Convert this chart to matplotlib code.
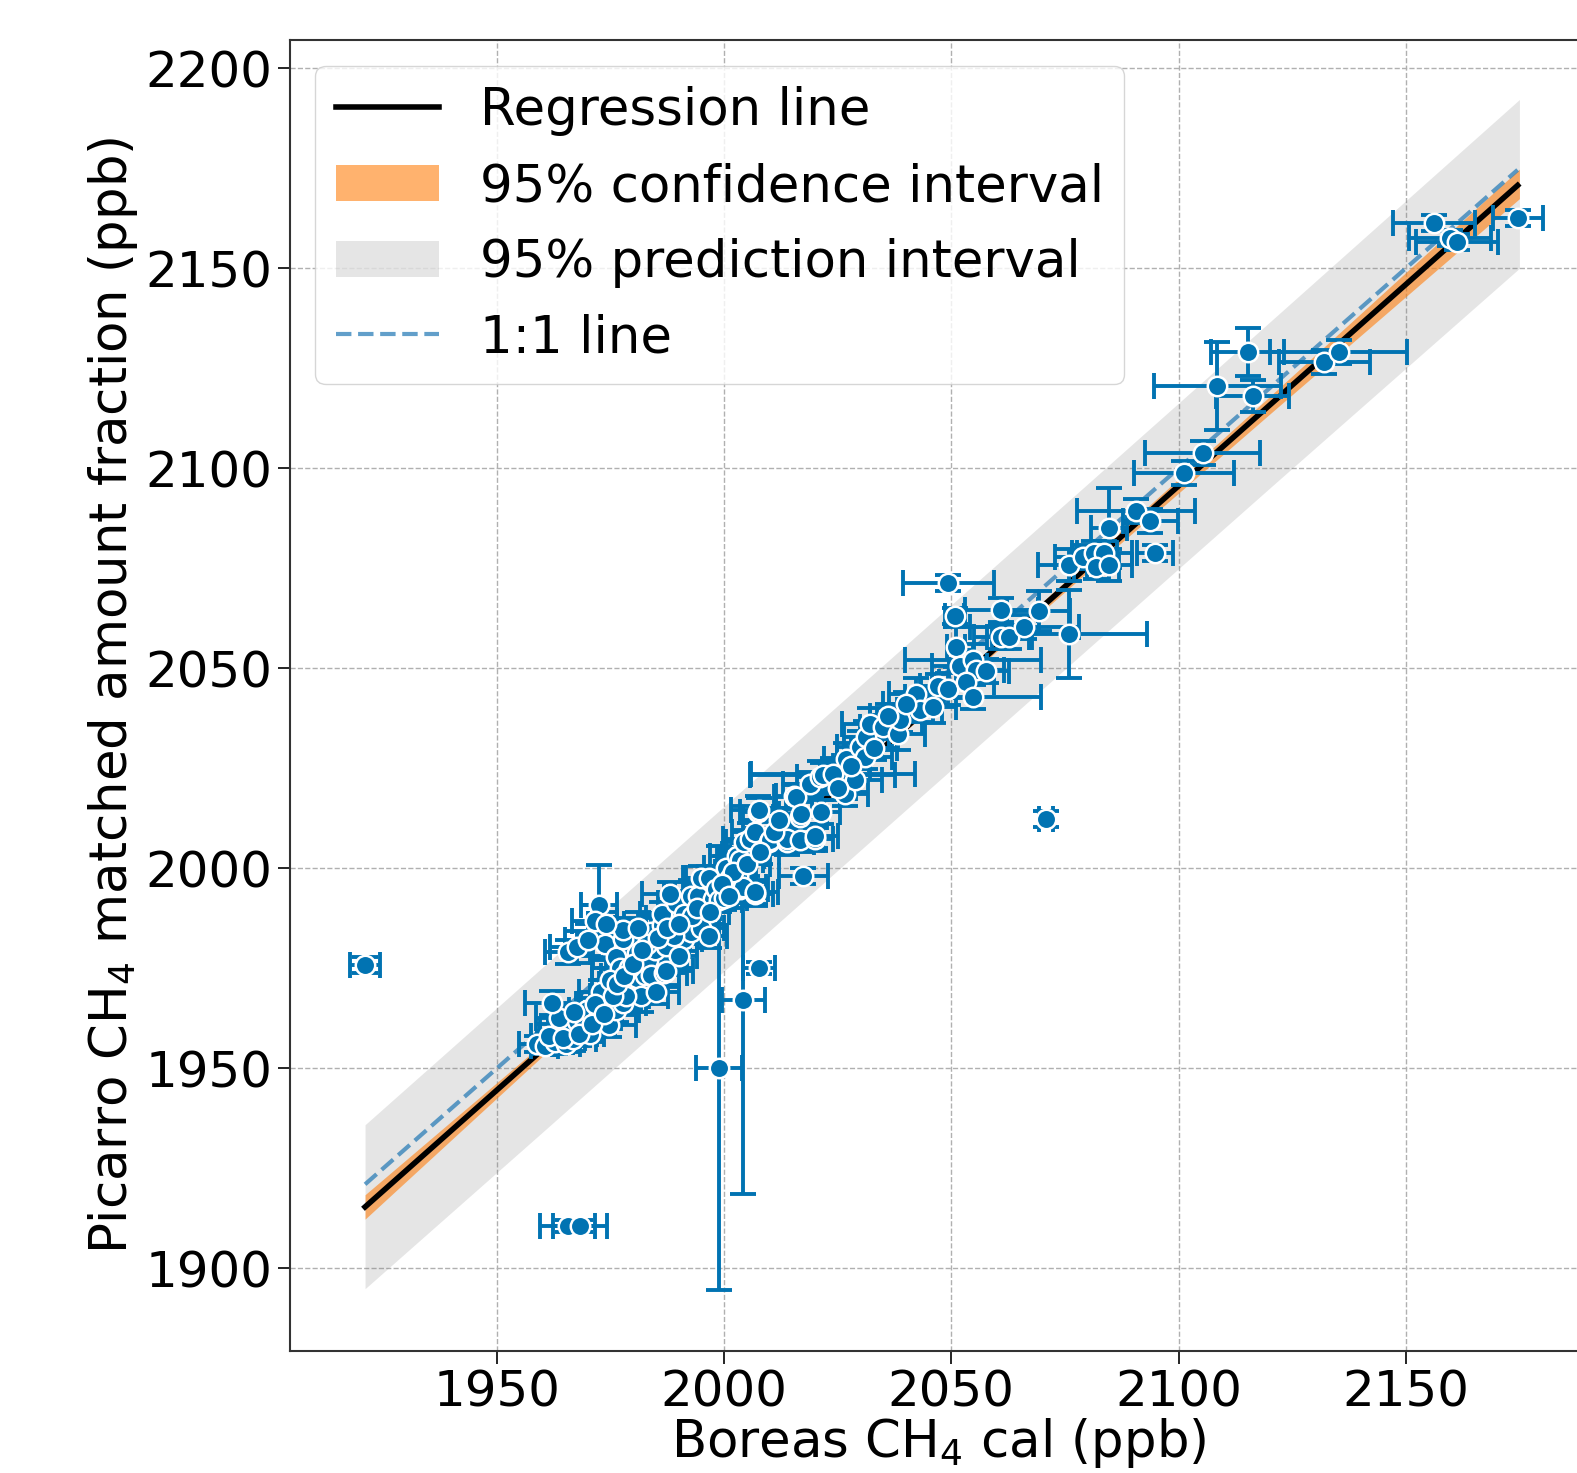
import matplotlib
matplotlib.use("Agg")
import matplotlib.pyplot as plt
from matplotlib.lines import Line2D
from matplotlib.patches import Patch
import numpy as np

# Boreas cal (x), Picarro (y), and their uncertainties
boreas = [
    1958.9, 1960.5, 1962.8, 1965.2, 1966.8, 1963.6, 1965.2, 1967.6, 1969.1, 1963.6,
    1962.1, 1969.9, 1972.3, 1974.6, 1973.0, 1974.6, 1976.2, 1977.8, 1970.5, 1967.0,
    1971.5,
    1965.6, 1967.6, 1972.5, 1971.5, 1973.8, 1976.2, 1977.0, 1977.8, 1977.8, 1979.3,
    1980.9, 1980.9, 1981.7, 1978.5, 1982.5, 1983.3, 1984.0, 1984.0, 1984.8, 1986.4,
    1986.8, 1987.2, 1987.2, 1988.8, 1986.4, 1989.5, 1991.1, 1991.1, 1992.7, 1992.7,
    1995.0, 1996.6, 1994.2, 1995.0, 1996.6, 1997.6, 1998.2, 1998.9, 1975.0, 1979.0,
    1983.0, 1989.0, 1990.0, 1985.0, 1993.0, 1988.0, 1981.0,
    1961.5, 1964.5, 1968.0, 1971.0, 1973.5, 1975.5, 1976.5, 1978.0, 1980.0, 1982.0,
    1985.5, 1987.5, 1990.0, 1994.0, 1997.0, 2000.0, 2003.0, 2004.5, 1970.0, 1974.0,
    2000.5, 2001.3, 2002.8, 2003.5, 2003.6, 2004.2, 2004.4, 2005.7, 2006.8, 2006.8,
    2006.8, 2007.5, 2007.6, 2009.9, 2010.1, 2013.8, 2013.8, 2015.4, 2015.9, 2016.7,
    2017.0, 2016.7, 2020.0, 2020.1, 2021.4, 2018.9, 2021.1, 2021.7, 2024.0, 2002.0,
    2005.0, 2008.0, 2011.0, 2012.0, 1999.5, 2001.0,
    2026.6, 2026.9, 2028.8, 2029.8, 2030.9, 2031.3, 2032.0, 2035.0, 2038.3, 2038.6,
    2042.3, 2043.0, 2046.0, 2047.1, 2049.3, 2025.0, 2033.0, 2036.0, 2040.0, 2028.0,
    2049.3, 2050.7, 2051.1, 2051.8, 2054.7, 2055.5, 2057.7, 2053.3, 2054.7, 2061.0,
    2061.0, 2062.8, 2066.1, 2069.2, 2076.0,
    2076.0, 2078.9, 2081.5, 2083.7, 2081.9, 2084.8, 2084.7, 2090.6, 2093.8, 2094.8,
    2101.1, 2105.3, 2108.5, 2115.2, 2116.3, 2132.1, 2135.2, 2156.2, 2159.8, 2161.3,
    2174.6,
    1921.0, 1965.6, 1968.3, 1998.9, 2004.2, 2007.6, 2017.4, 2070.9,
]
picarro = [
    1956.0, 1955.6, 1956.5, 1956.0, 1957.4, 1959.1, 1960.0, 1961.8, 1960.0, 1962.7,
    1966.3, 1964.5, 1962.7, 1960.9, 1969.0, 1965.4, 1964.5, 1966.3, 1958.5, 1964.0,
    1966.0,
    1979.2, 1980.4, 1990.8, 1986.8, 1981.0, 1977.9, 1975.2, 1982.3, 1984.6, 1969.8,
    1972.5, 1978.8, 1968.0, 1968.0, 1973.4, 1977.0, 1973.4, 1984.1, 1979.7, 1985.9,
    1973.9, 1974.3, 1980.6, 1987.7, 1988.6, 1991.3, 1988.6, 1982.3, 1984.1, 1993.0,
    1985.0, 1983.2, 1993.0, 1997.5, 1997.5, 1992.4, 1994.8, 1992.2, 1972.0, 1975.0,
    1981.0, 1983.0, 1978.0, 1969.0, 1988.0, 1993.5, 1985.0,
    1958.0, 1957.5, 1958.5, 1961.0, 1963.5, 1968.0, 1971.0, 1973.0, 1976.0, 1979.5,
    1982.5, 1985.0, 1986.0, 1990.0, 1989.0, 1992.5, 1998.0, 2003.5, 1982.0, 1986.0,
    2000.2, 1997.5, 2003.0, 2002.0, 1994.8, 1995.3, 2006.5, 2007.4, 2009.1, 1993.6,
    1994.0, 2014.0, 2014.5, 2006.5, 2007.0, 2006.6, 2007.3, 2018.0, 2017.8, 2012.8,
    2013.6, 2007.0, 2007.4, 2008.2, 2014.0, 2021.1, 2022.8, 2023.4, 2023.6, 1999.0,
    2001.0, 2004.0, 2009.0, 2012.0, 1996.0, 1993.0,
    2018.7, 2027.4, 2022.0, 2030.3, 2027.8, 2032.8, 2036.2, 2035.3, 2033.6, 2037.0,
    2043.6, 2039.5, 2040.3, 2045.7, 2044.9, 2020.0, 2030.0, 2038.0, 2041.0, 2025.5,
    2071.2, 2063.0, 2055.3, 2050.7, 2052.0, 2049.5, 2049.3, 2046.6, 2042.8, 2064.6,
    2057.8, 2057.8, 2060.3, 2064.3, 2058.6,
    2075.7, 2077.8, 2078.7, 2078.7, 2075.3, 2075.7, 2085.0, 2089.2, 2086.8, 2078.8,
    2098.8, 2103.7, 2120.5, 2129.1, 2118.0, 2126.5, 2129.1, 2161.3, 2157.5, 2156.5,
    2162.5,
    1975.9, 1910.5, 1910.5, 1950.0, 1967.0, 1975.0, 1998.0, 2012.4,
]
boreas_err = [
    4, 3, 4, 3, 5, 4, 3, 5, 4, 5,
    6, 4, 5, 6, 5, 6, 5, 5, 3, 4,
    4,
    5, 6, 4, 5, 6, 5, 6, 5, 4, 5,
    6, 5, 6, 5, 5, 4, 6, 5, 5, 4,
    5, 6, 5, 6, 5, 4, 5, 4, 5, 6,
    5, 4, 5, 4, 5, 4, 6, 5, 4, 5,
    4, 5, 4, 5, 4, 6, 5,
    4, 5, 4, 5, 4, 5, 4, 5, 4, 5,
    4, 5, 4, 5, 4, 5, 4, 5, 5, 4,
    5, 5, 6, 5, 6, 5, 4, 6, 5, 4,
    5, 4, 6, 4, 5, 6, 5, 4, 5, 6,
    5, 5, 4, 5, 4, 6, 5, 16, 18, 4,
    5, 4, 5, 4, 5, 4,
    5, 5, 6, 5, 6, 5, 6, 5, 6, 5,
    6, 5, 5, 4, 6, 4, 5, 4, 5, 4,
    10, 2, 2, 6, 15, 6, 5, 6, 15, 8,
    6, 5, 12, 7, 17,
    7, 6, 5, 6, 5, 5, 4, 13, 6, 4,
    11, 12.7, 14, 8, 8, 10, 15, 9, 9, 9,
    5.5,
    3.3, 6, 6, 5, 4.7, 3.5, 5.4, 1.5,
]
picarro_err = [
    2, 2, 3, 2, 3, 3, 2, 3, 3, 3,
    3, 3, 4, 3, 3, 4, 3, 3, 2, 2,
    3,
    3, 4, 10, 4, 4, 3, 4, 4, 3, 3,
    4, 3, 4, 3, 3, 3, 4, 4, 3, 3,
    3, 4, 3, 4, 3, 3, 4, 3, 3, 4,
    3, 3, 4, 3, 3, 3, 4, 3, 3, 3,
    3, 3, 3, 3, 3, 3, 4,
    3, 2, 3, 3, 3, 3, 3, 3, 3, 3,
    3, 3, 3, 3, 3, 3, 3, 3, 4, 3,
    3, 4, 4, 3, 3, 4, 3, 4, 3, 3,
    3, 4, 3, 3, 3, 3, 4, 3, 3, 4,
    3, 3, 3, 3, 3, 3, 4, 3, 4, 3,
    3, 3, 3, 3, 3, 3,
    3, 4, 3, 4, 3, 4, 4, 3, 4, 3,
    4, 3, 4, 3, 4, 3, 3, 3, 3, 3,
    2, 2, 5, 4, 4, 3, 3, 4, 3, 3,
    3, 3, 3, 5, 11,
    4, 3, 3, 3, 3, 4, 10, 3, 3, 2,
    3, 3, 11, 6, 4, 3, 3, 2, 2, 2,
    2,
    2, 1.5, 1.5, 55.5, 48.5, 1.5, 2, 2,
]

# regression fit and bands
slope = 1.007
intercept = -19.1
band_x = [1921, 1960, 2000, 2040, 2080, 2120, 2175]
ci_lo = [1912.3, 1953.0, 1994.1, 2034.4, 2074.1, 2113.5, 2167.4]
ci_hi = [1918.4, 1956.1, 1995.7, 2036.0, 2076.8, 2117.9, 2174.8]
pi_lo = [1894.9, 1934.0, 1974.3, 2014.6, 2054.8, 2095.0, 2150.0]
pi_hi = [1935.9, 1975.2, 2015.5, 2055.8, 2096.1, 2136.5, 2192.2]

blue = "#0173b2"

fig = plt.figure(figsize=(15.77, 14.73), dpi=100)
ax = fig.add_axes([289.6 / 1577, 0.0830, 1298 / 1577, 0.8898])

ax.fill_between(band_x, pi_lo, pi_hi, color="gray", alpha=0.2, linewidth=0, zorder=1)
ax.fill_between(band_x, ci_lo, ci_hi, color="tab:orange", alpha=0.6, linewidth=0, zorder=2)
xs = np.array([min(boreas), max(boreas)])
ax.plot(xs, intercept + slope * xs, color="black", lw=4, zorder=3)
ax.plot(xs, xs, "--", color="tab:blue", alpha=0.7, lw=3, zorder=3)

ax.errorbar(boreas, picarro, xerr=boreas_err, yerr=picarro_err, fmt="none",
            ecolor=blue, elinewidth=2.8, capsize=9.5, capthick=2.8, zorder=4)
ax.plot(boreas, picarro, "o", color=blue, markersize=14,
        markeredgecolor="white", markeredgewidth=1.8, zorder=5)

ax.set_xlim(1904.4, 2190)
ax.set_ylim(1879.4, 2207.05)
ax.set_xticks([1950, 2000, 2050, 2100, 2150])
ax.set_yticks([1900, 1950, 2000, 2050, 2100, 2150, 2200])
ax.tick_params(labelsize=36, length=9, width=1.2)
ax.grid(True, linestyle="--", color="#b0b0b0", linewidth=1.0)
ax.set_axisbelow(True)
for sp in ax.spines.values():
    sp.set_color("#333333")
    sp.set_linewidth(1.5)

ax.set_xlabel("Boreas CH$_4$ cal (ppb)", fontsize=37, labelpad=0)
ax.set_ylabel("Picarro CH$_4$ matched amount fraction (ppb)", fontsize=37)

handles = [
    Line2D([], [], color="black", lw=4),
    Patch(color="tab:orange", alpha=0.6, linewidth=0),
    Patch(color="gray", alpha=0.2, linewidth=0),
    Line2D([], [], color="tab:blue", alpha=0.7, lw=3, ls="--"),
]
labels = ["Regression line", "95% confidence interval",
          "95% prediction interval", "1:1 line"]
ax.legend(handles, labels, loc="upper left", fontsize=37)

fig.savefig("out.png", dpi=100)
